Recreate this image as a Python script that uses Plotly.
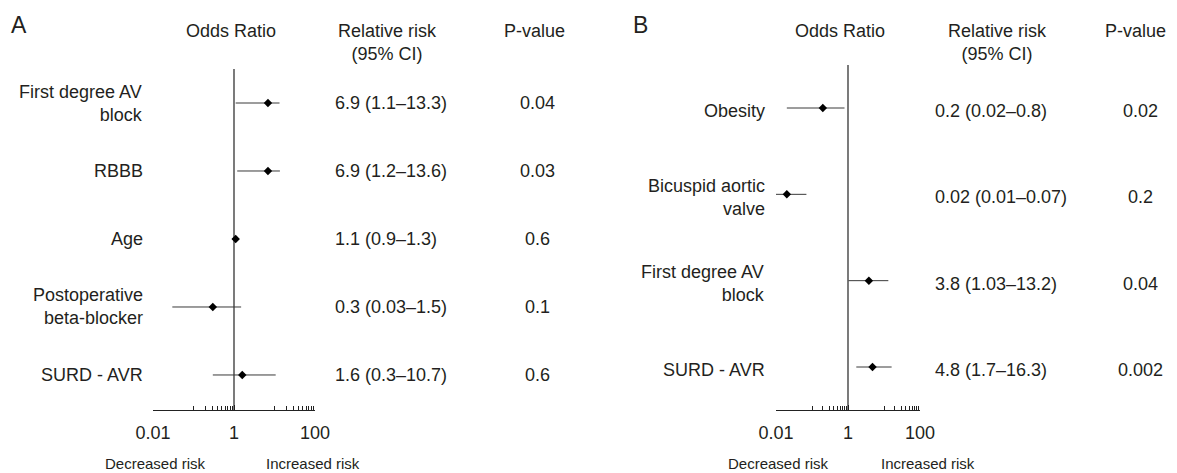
import plotly.graph_objects as go

W, H = 1177, 473
OFF = 8  # page offset of the figure inside the browser window

# ---------------- data ----------------
a_labels = ["First degree AV<br>block", "RBBB", "Age", "Postoperative<br>beta-blocker", "SURD - AVR"]
a_or = [6.9, 6.9, 1.1, 0.3, 1.6]
a_lo = [1.1, 1.2, 0.9, 0.03, 0.3]
a_hi = [13.3, 13.6, 1.3, 1.5, 10.7]
a_rr = ["6.9 (1.1–13.3)", "6.9 (1.2–13.6)", "1.1 (0.9–1.3)", "0.3 (0.03–1.5)", "1.6 (0.3–10.7)"]
a_p = ["0.04", "0.03", "0.6", "0.1", "0.6"]

b_labels = ["Obesity", "Bicuspid aortic<br>valve", "First degree AV<br>block", "SURD - AVR"]
b_or = [0.2, 0.02, 3.8, 4.8]
b_lo = [0.02, 0.01, 1.03, 1.7]
b_hi = [0.8, 0.07, 13.2, 16.3]
b_rr = ["0.2 (0.02–0.8)", "0.02 (0.01–0.07)", "3.8 (1.03–13.2)", "4.8 (1.7–16.3)"]
b_p = ["0.02", "0.2", "0.04", "0.002"]

major_ticks = [0.01, 1, 100]
major_text = ["0.01", "1", "100"]
minor_ticks = [0.1, 0.2, 0.3, 0.4, 0.5, 0.6, 0.7, 0.8, 0.9, 10, 20, 30, 40, 50, 60, 70, 80, 90]

FONT = "Liberation Sans, Arial, sans-serif"
TXT = "#231f20"


def px(x):
    return (x - OFF) / W


def py(y):
    return 1 - (y - OFF) / H


fig = go.Figure()

panels = [
    dict(labels=a_labels, orv=a_or, lo=a_lo, hi=a_hi, rr=a_rr, p=a_p, xa="x", ya="y"),
    dict(labels=b_labels, orv=b_or, lo=b_lo, hi=b_hi, rr=b_rr, p=b_p, xa="x2", ya="y2"),
]

for pn in panels:
    n = len(pn["orv"])
    ys = [n - 1 - i for i in range(n)]
    fig.add_trace(go.Scatter(
        x=pn["orv"], y=ys, mode="markers",
        marker=dict(symbol="diamond", size=6.5, color="black"),
        error_x=dict(type="data", symmetric=False,
                     array=[h - o for h, o in zip(pn["hi"], pn["orv"])],
                     arrayminus=[o - l for o, l in zip(pn["orv"], pn["lo"])],
                     width=0, thickness=1, color="#3a3a3a"),
        xaxis=pn["xa"], yaxis=pn["ya"], showlegend=False, hoverinfo="skip",
    ))

axis_common = dict(
    type="log", range=[-2, 2], showgrid=False, zeroline=False, automargin=False,
    showline=True, linecolor="#222222", linewidth=1.2,
    tickmode="array", tickvals=major_ticks, ticktext=major_text,
    ticks="inside", ticklen=5, tickwidth=1, tickcolor="#222222",
    tickfont=dict(family=FONT, size=18, color=TXT),
    ticklabelstandoff=6,
    minor=dict(tickmode="array", tickvals=minor_ticks, ticks="inside",
               ticklen=4, tickwidth=1, tickcolor="#222222", showgrid=False),
    fixedrange=True,
)

fig.update_layout(
    width=W, height=H,
    margin=dict(l=0, r=0, t=0, b=0, pad=0, autoexpand=False),
    showlegend=False,
    paper_bgcolor="white", plot_bgcolor="white",
    xaxis=dict(domain=[px(153), px(315)], anchor="y", **axis_common),
    yaxis=dict(domain=[py(410), py(69)], range=[-0.515, 4.5], visible=False,
               anchor="x", fixedrange=True, automargin=False),
    xaxis2=dict(domain=[px(776), px(920)], anchor="y2", **axis_common),
    yaxis2=dict(domain=[py(410), py(65)], range=[-0.498, 3.498], visible=False,
                anchor="x2", fixedrange=True, automargin=False),
)

# vertical reference lines at OR = 1
for xa, ya in [("x", "y"), ("x2", "y2")]:
    fig.add_shape(type="line", xref=xa, yref=f"{ya} domain", x0=1, x1=1, y0=0, y1=1,
                  line=dict(color="#222222", width=1.2), layer="below")

ann = []


def text(x, y, t, size=18, xanchor="center", yref="paper", align="center", yshift=0):
    ann.append(dict(x=x, y=y, xref="paper", yref=yref, text=t, showarrow=False,
                    xanchor=xanchor, yanchor="middle", align=align, yshift=yshift,
                    font=dict(family=FONT, size=size, color=TXT)))


# panel geometry (reference pixels)
geo = [
    dict(label_r=145, rr_l=333, p_c=537, or_c=231, rr_c=387, pv_c=534, dec=155, inc=313,
         letter=(19, "A"), yshift=0),
    dict(label_r=767, rr_l=933, p_c=1140, or_c=840, rr_c=997, pv_c=1135, dec=778, inc=928,
         letter=(640, "B"), yshift=-3),
]

for pn, g in zip(panels, geo):
    n = len(pn["orv"])
    for i in range(n):
        yv = n - 1 - i
        text(px(g["label_r"]), yv, pn["labels"][i], xanchor="right", yref=pn["ya"],
             align="right", yshift=g["yshift"])
        text(px(g["rr_l"]), yv, pn["rr"][i], xanchor="left", yref=pn["ya"],
             align="left", yshift=g["yshift"])
        text(px(g["p_c"]), yv, pn["p"][i], yref=pn["ya"], yshift=g["yshift"])
    text(px(g["or_c"]), py(31), "Odds Ratio")
    text(px(g["rr_c"]), py(43), "Relative risk<br>(95% CI)")
    text(px(g["pv_c"]), py(31), "P-value")
    text(px(g["dec"]), py(463), "Decreased risk", size=15)
    text(px(g["inc"]), py(463), "Increased risk", size=15)
    lx, lt = g["letter"]
    text(px(lx), py(25), lt, size=23)

fig.update_layout(annotations=ann)
fig.write_html("out.html")
